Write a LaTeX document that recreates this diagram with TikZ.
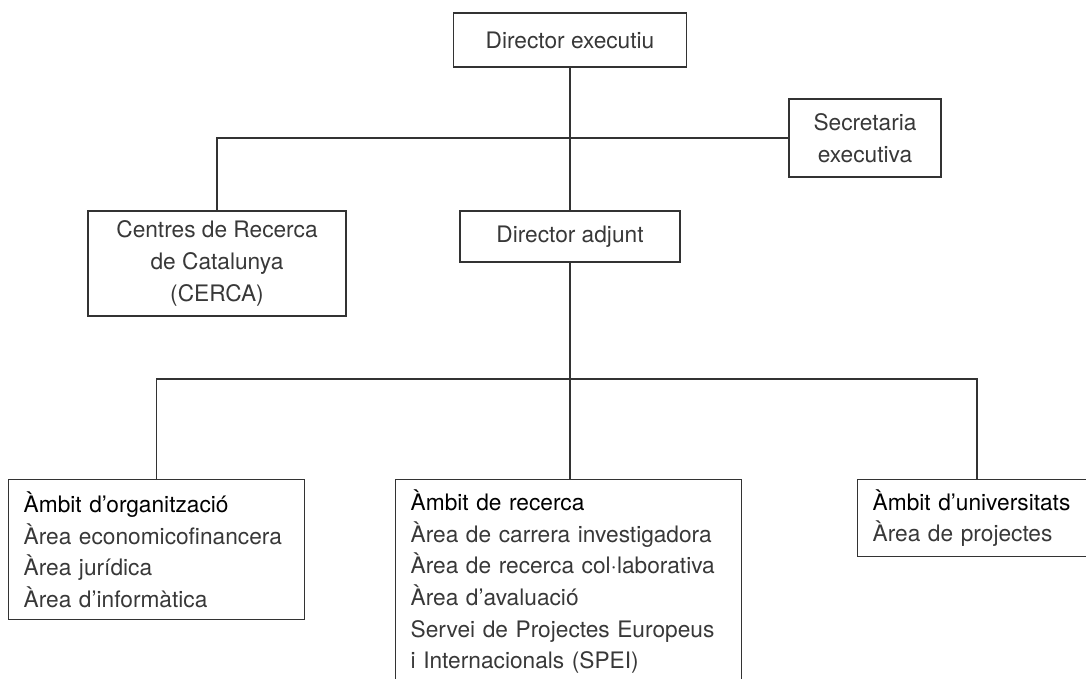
\documentclass[tikz,border=0pt]{standalone}
\usepackage{fontspec}
\setmainfont{TeX Gyre Heros}
\begin{document}
\begin{tikzpicture}[x=1pt,y=-1pt,
  every node/.style={font=\fontsize{22.7}{31.7}\selectfont, text=black!78},
  box/.style={draw=black!80, line width=1.4pt, rectangle, inner sep=0pt, align=center},
  lbox/.style={draw=black!80, line width=1.4pt, rectangle, inner xsep=15pt, inner ysep=0pt, align=left, anchor=north west},
  conn/.style={draw=black!80, line width=1.4pt},
  ttl/.style={text=black}]
\useasboundingbox (0,0) rectangle (1086,678);
\clip (0,0) rectangle (1086,678);
\node[box, minimum width=233pt, minimum height=54pt] (de) at (570,40) {Director executiu};
\node[box, minimum width=152pt, minimum height=78pt] (sec) at (865,138) {Secretaria\\executiva};
\node[box, minimum width=258pt, minimum height=105pt] (cerca) at (217,263.5) {Centres de Recerca\\de Catalunya\\(CERCA)};
\node[box, minimum width=220pt, minimum height=51pt] (da) at (570,236.5) {Director adjunt};
\node[lbox, text width=266pt, minimum height=140pt] (ao) at (8,479) {{\color{black}Àmbit d’organització}\\Àrea economicofinancera\\Àrea jurídica\\Àrea d’informàtica};
\node[lbox, text width=316pt, minimum height=204pt] (ar) at (395,479) {{\color{black}Àmbit de recerca}\\Àrea de carrera investigadora\\Àrea de recerca col·laborativa\\Àrea d’avaluació\\Servei de Projectes Europeus\\i Internacionals (SPEI)};
\node[lbox, text width=215pt, minimum height=77pt] (au) at (857,479) {{\color{black}Àmbit d’universitats}\\Àrea de projectes};
\coordinate (bus) at (570,379);
\coordinate (ru) at (977,479);
\draw[conn] (de.south) -- (da.north);
\draw[conn] (cerca.north) |- (sec.west);
\draw[conn] (da.south) -- (da.south |- ar.north);
\draw[conn] (ao.north) |- (ru |- bus) -- (ru);
\end{tikzpicture}
\end{document}
